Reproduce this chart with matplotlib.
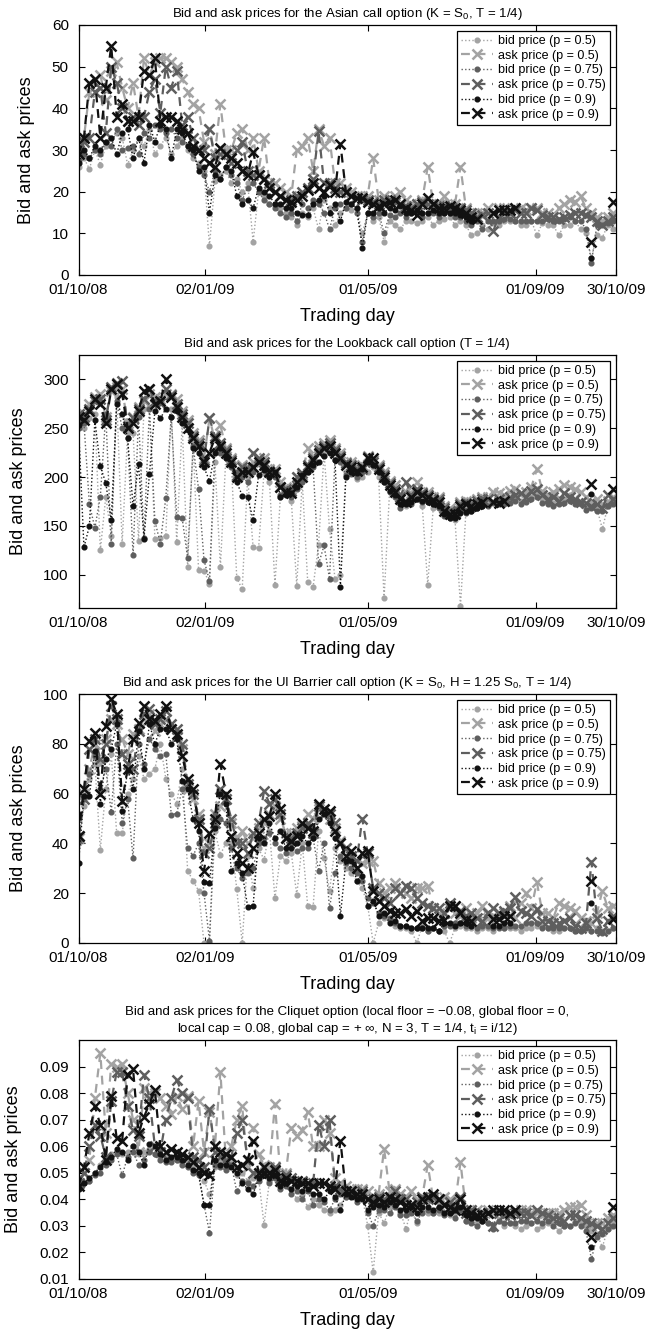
import numpy as np
import pandas as pd
import matplotlib
matplotlib.use("Agg")
import matplotlib.pyplot as plt
import matplotlib.dates as mdates
from matplotlib.ticker import FormatStrFormatter

nan = np.nan

# trading days sampled every 4 calendar days from 01/10/08
dates = pd.date_range("2008-10-01", periods=99, freq="4D")

# ---- Asian call option ----
asian_bid_50 = [26, 28, 25.5, 30, 26.5, 31, 33, 34, 33, 26.5,
                30, 33, 31, 35, 29, 31, 33, 29, 31, 33,
                30, 28, 27, 25, 7, 22.5, 24, 25, 22, 23,
                20, 22, 8, 20, 19, 17, 17, 16, 15, 14,
                12, 15, 14, 16, 11, 18, 16, 12, 15, 16,
                15.5, 16, 10, 15, 13, 14, 8, 13, 12, 11,
                13, 13, 12.5, 13, 14, 12, 13, 13.5, 14, 12,
                13, 12, 9.5, 10, 12, 11, 12.5, 12, 13, 13,
                13, 12, 12, 13, 9.5, 12.5, 12, 12, 9.5, 12,
                12, 13, 11, 10, 4, 9.5, 9, 12, 11]
asian_ask_50 = [31, 33, 44, 47, 48, 42, 49, 51, 45, 40,
                46, 38, 52, 48, 51, 52, 52, 51, 50, 47,
                44, 41, 40, 32, 35, 29, 41, 30, 30, 34,
                35, 30, 33, 25, 33, 22, 22, 21, 20, 19,
                30, 31, 33, 25, 35, 31, 33, 22, 22, 21,
                20, 19, 19, 19, 28, 18, 19, 18, 19, 20,
                18, 17, 17, 18, 26, 17, 17, 19, 17, 17,
                26, 16, 15, 15, 15, 16, 15, 16, 16, 15,
                16, 16, 15.5, 16, 16, 15, 15, 14, 16, 17,
                18, 17.5, 19, 16, 15, 14, 13, 14, 15]
asian_bid_75 = [27.5, 29, 28, 30, 29, 32, 31, 35, 30, 30.5,
                31, 29, 34, 33, 36, 35, 34, 35, 33, 32,
                31, 29, 26, 24, 20, 25, 23, 26, 24, 22,
                18, 21, 22, 20, 18, 17, 16, 15, 14, 15,
                13, 17, 16, 18, 17, 15, 11, 16, 17, 16,
                17, 15, 8, 15, 14, 15, 10, 14.5, 14, 15,
                14, 15, 15, 14, 15, 15, 14, 15, 15, 14,
                14, 13, 12, 13, 11, 13, 13, 13, 13.5, 13.5,
                13, 13, 13, 13, 13, 13, 13.5, 13, 13, 13.5,
                14, 13, 13, 11, 3, 12, 12, 12.5, 13]
asian_ask_75 = [30, 32, 33, 44, 45, 34, 50, 46, 40, 37,
                38, 36, 38, 44, 47, 39, 50, 45, 49, 36,
                38, 33, 30, 30, 35, 28, 29, 29, 27, 30,
                32, 25, 24, 24, 23, 22, 20, 19, 18, 18,
                19, 20, 21, 23, 34.5, 22, 22, 21, 20, 20,
                19, 18.5, 18, 18, 17.5, 17, 18, 18, 17.5, 17,
                16.5, 16, 17, 17.5, 17, 17, 16.5, 16.5, 16, 16,
                16, 15.5, 15, 14, 14.5, 15, 10.5, 14, 15, 15,
                15.5, 15, 15, 16, 15.5, 14.5, 14, 14, 13.5, 14,
                14.5, 15, 15, 14.5, 14, 13, 12, 13, 14]
asian_bid_90 = [27, 30, 28, 31, 30, 32, 33, 29, 34, 35,
                28, 33, 27, 36, 32, 36, 35, 28, 35, 34,
                31, 30, 25, 26, 15, 24, 23, 26, 25, 19,
                17, 18, 16, 21, 20, 19, 17, 17, 16, 16,
                15, 14.5, 14.5, 17, 18, 19, 15, 17, 13, 17.5,
                17, 16, 6.5, 15, 15, 16, 15, 16, 15.5, 16.5,
                15, 15, 15.5, 15, 15, 15.5, 15, 15, 15, 15,
                14.5, 14, 13, nan, nan, nan, nan, nan, nan, nan,
                nan, nan, nan, nan, nan, nan, nan, nan, nan, nan,
                nan, nan, nan, nan, 4, nan, nan, nan, nan]
asian_ask_90 = [29, 33, 46, 47, 33, 45, 55, 38, 41, 37,
                37, 38, 49, 48, 52, 37, 38, 38, 37, 35,
                34, 31, 30, 28, 27, 26, 30.5, 29, 28, 27,
                25, 24, 29.5, 24, 23, 21, 20, 19, 18, 17.5,
                18, 19, 20.5, 22, 21, 20, 21.5, 20, 31.5, 20,
                19, 18.5, 18.5, 17.5, 17, 16.5, 17, 17.5, 18, 17,
                16, 15.5, 14.5, 17, 18.5, 17, 16, 16, 16.5, 16,
                15.5, 15, 14, 13.5, nan, nan, 15, 15.5, 15.5, 15.5,
                16, nan, nan, nan, nan, nan, nan, nan, nan, nan,
                nan, nan, nan, nan, 8, nan, nan, nan, 17.5]

# ---- Lookback call option ----
look_bid_50 = [255, 250, 260, 265, 125, 180, 140, 282, 132, 245,
               245, 135, 270, 272, 137, 138, 140, 270, 134, 255,
               108, 235, 105, 104, 91, 215, 108, 220, 215, 97,
               85, 200, 128, 127, 205, 195, 90, 180, 185, 176,
               89, 196, 93, 88, 131, 225, 147, 96, 100, 205,
               205, 198, 200, 205, 210, 200, 76, 185, 182, 172,
               170, 175, 180, 170, 90, 168, 170, 162, 160, 156,
               68, 165, 165, 168, 170, 172, 175, 176, 178, 178,
               180, 176, 178, 180, 185, 178, 176, 174, 178, 178,
               182, 176, 175, 170, 172, 168, 147, 170, 175]
look_ask_50 = [260, 265, 275, 282, 285, 262, 288, 292, 290, 255,
               262, 272, 278, 285, 282, 280, 285, 285, 280, 268,
               258, 245, 238, 220, 260, 238, 253, 230, 220, 205,
               212, 210, 215, 218, 220, 208, 208, 195, 190, 188,
               200, 202, 230, 222, 232, 235, 238, 230, 225, 215,
               215, 210, 212, 222, 218, 212, 205, 196, 192, 182,
               185, 184, 195, 185, 185, 180, 180, 170, 168, 165,
               175, 176, 175, 178, 180, 180, 185, 184, 182, 186,
               188, 183, 185, 190, 208, 186, 182, 185, 188, 192,
               190, 188, 185, 180, 175, 178, 172, 176, 180]
look_bid_75 = [250, 255, 172, 148, 180, 265, 132, 278, 250, 240,
               120, 262, 138, 270, 155, 132, 179, 262, 159, 158,
               117, 232, 188, 115, 94, 228, 225, 225, 210, 205,
               200, 195, 205, 215, 208, 200, 200, 182, 183, 180,
               188, 195, 205, 210, 111, 130, 96, 218, 215, 202,
               203, 200, 205, 215, 212, 205, 195, 185, 180, 168,
               172, 172, 178, 175, 175, 172, 168, 160, 158, 158,
               165, 163, 165, 168, 170, 170, 174, 172, 172, 174,
               176, 172, 175, 178, 180, 174, 172, 170, 172, 174,
               176, 172, 172, 166, 168, 165, 165, 170, 172]
look_ask_75 = [265, 262, 270, 278, 280, 258, 292, 296, 298, 252,
               260, 270, 280, 290, 278, 276, 290, 284, 275, 265,
               255, 242, 235, 218, 260, 242, 235, 228, 218, 202,
               210, 208, 225, 220, 215, 206, 205, 190, 188, 186,
               200, 204, 212, 220, 228, 232, 235, 228, 222, 214,
               212, 208, 208, 221, 215, 210, 202, 194, 188, 180,
               195, 182, 188, 184, 182, 178, 178, 168, 165, 163,
               172, 174, 172, 176, 178, 178, 175, 178, 176, 180,
               182, 184, 180, 186, 188, 182, 178, 180, 176, 184,
               180, 178, 175, 174, 170, 172, 168, 182, 178]
look_bid_90 = [253, 128, 150, 258, 211, 194, 156, 275, 265, 240,
               170, 213, 137, 203, 268, 260, 270, 262, 268, 255,
               248, 230, 225, 210, 196, 225, 230, 220, 212, 195,
               181, 180, 156, 202, 207, 200, 205, 180, 182, 184,
               190, 202, 205, 212, 215, 222, 225, 218, 88, 200,
               205, 204, 208, 215, 212, 205, 195, 186, 182, 172,
               172, 175, 178, 176, 175, 172, 170, 162, 158, 158,
               163, 164, 165, 168, 170, nan, nan, nan, nan, nan,
               nan, nan, nan, nan, nan, nan, nan, nan, nan, nan,
               nan, nan, nan, nan, 183, nan, nan, nan, nan]
look_ask_90 = [262, 258, 268, 280, 275, 255, 290, 295, 285, 250,
               255, 268, 288, 290, 275, 278, 300, 282, 272, 262,
               250, 240, 232, 215, 225, 240, 232, 225, 215, 200,
               205, 205, 210, 215, 212, 205, 205, 190, 185, 184,
               195, 200, 210, 218, 225, 230, 232, 225, 220, 212,
               210, 206, 210, 220, 220, 208, 200, 192, 185, 178,
               175, 180, 185, 182, 180, 177, 175, 165, 162, 162,
               170, 172, 170, 172, 175, nan, 175, 174, 176, nan,
               nan, nan, nan, nan, nan, nan, nan, nan, nan, nan,
               nan, nan, nan, nan, 193, nan, nan, nan, 188]

# ---- UI Barrier call option ----
bar_bid_50 = [40, 55, 66, 72, 37.5, 62, 76, 44, 44, 60,
              66, 75, 66, 68, 70, 80, 66, 60, 56, 70,
              29, 25, 21, 0, 0, 45, 35.5, 40, 40, 21.8,
              0, 35, 22, 38, 33.5, 45, 18, 35, 33, 36,
              19.4, 40, 15, 14.6, 45, 34, 21, 38, 33, 30,
              28, 25, 22, 15, 0, 8, 10, 9, 7, 6,
              6, 5, 0, 7, 5, 6, 5, 5, 0, 6,
              7, 6, 6, 5, 6, 6, 5, 7, 6, 6,
              6, 5, 6, 6, 7, 7, 6, 5, 5, 6,
              6, 5, 5, 6, 5, 6, 5, 5, 6]
bar_ask_50 = [42, 60, 70, 80, 72, 82, 90, 88, 82, 76,
              84, 86, 90, 92, 85, 88, 90, 86, 83, 78,
              62, 58, 52, 38, 40, 52, 55, 58, 48, 42,
              45, 40, 42, 46, 48, 52, 55, 50, 44, 44,
              46, 47, 52, 50, 54, 52, 50, 46, 41, 38,
              34, 30, 32, 33, 33, 24, 20, 22, 24, 20,
              20, 18, 22, 22, 23, 14, 12, 12, 14, 12,
              11, 14, 10, 12, 15, 10, 11, 12, 12, 15,
              10, 16, 20, 14, 24.5, 12, 12, 10, 16, 15,
              14, 13, 10, 9, 8, 12, 21, 14, 15]
bar_bid_75 = [41, 58, 68, 75, 62, 70, 52.7, 80, 48, 58,
              34, 80, 72, 82, 78, 75, 76, 51.6, 52, 62,
              38, 35, 40, 20, 1, 52, 50, 48, 38, 30,
              26, 28, 30, 40, 42, 44, 40, 38, 36, 40,
              37, 38, 38, 42, 29, 40, 14, 28, 35, 32,
              30, 28, 25, 18, 16, 12, 11, 10, 8, 7,
              7, 6, 6, 6, 5, 6, 5, 7, 7, 8,
              8, 7, 7, 6, 7, 7, 6, 6, 6, 7,
              7, 7, 8, 8, 8, 6, 6, 6, 6, 6,
              6, 5, 5, 6, 5, 5, 4, 5, 6]
bar_ask_75 = [43, 58, 78, 82, 74, 80, 95, 90, 76, 72,
              70, 85, 92, 94, 88, 90, 93, 88, 86, 80,
              64, 60, 50, 36, 38, 48, 62, 58, 50, 40,
              40, 36, 44, 48, 61, 56, 58, 52, 42, 42,
              44, 46, 48, 44, 55, 52, 52, 48, 40, 38,
              35, 33, 50, 36, 22, 20, 18, 16, 22, 20,
              23, 22, 18, 16, 15, 14, 14, 12, 16, 15,
              13, 11, 12, 10, 9, 12, 14, 12, 13, 14,
              18.5, 13, 12, 11, 13.5, 9, 9, 8, 8, 9,
              10, 7, 6, 8, 32.7, 10, 5, 9, 11]
bar_bid_90 = [32, 59, 59, 77, 56, 74, 78, 88, 53, 69.6,
              62, 85, 70, 88, 80, 86, 86, 80, 82, 65,
              62, 50, 45, 24.3, 24, 46, 60, 56, 29, 32,
              28, 14.6, 15, 42, 40, 48, 42, 45, 38, 38,
              40, 43, 40, 42, 50, 52, 48, 42, 11, 33,
              33, 25, 27, 15, 17, 11, 12, 8, 9, 7,
              7, 6, 6, 6, 6, 6, 5, 8, 8, 7,
              8, 8, 7, nan, nan, nan, 7, 7, 8, 8,
              nan, nan, nan, nan, nan, nan, nan, nan, nan, nan,
              nan, nan, nan, nan, 16, nan, nan, nan, nan]
bar_ask_90 = [43, 62, 81, 84.5, 60, 87, 98, 92, 57, 70,
              82, 88.5, 95, 90, 89, 92, 95, 86, 84, 75,
              66, 62, 48, 29, 44, 50, 72, 60, 43, 36,
              32, 30, 38, 44, 50, 51, 60, 54, 42, 41,
              43, 48, 46, 45, 56, 54, 53, 45, 40, 35,
              37, 30, 36, 37, 21, 17, 15, 13, 12, 12,
              13.5, 11, 13, 9, 10, 10, 9, 9.4, 15, 15,
              12, 9.4, 9, nan, nan, nan, 9.5, 9.5, 11, 11,
              nan, nan, nan, nan, nan, nan, nan, nan, nan, nan,
              nan, nan, nan, nan, 24.7, nan, nan, nan, 9.5]

# ---- Cliquet option ----
cliq_bid_50 = [.045, .046, .047, .05, .053, .055, .057, .058, .057, .058,
               .06, .057, .058, .059, .057, .056, .056, .055, .055, .054,
               .054, .052, .05, .047, .042, .052, .054, .052, .054, .049,
               .05, .047, .048, .048, .0305, .047, .05, .045, .046, .044,
               .04, .042, .037, .04, .038, .036, .035, .036, .038, .041,
               .042, .041, .041, .03, .0125, .035, .031, .037, .038, .035,
               .029, .036, .031, .036, .035, .035, .035, .035, .034, .035,
               .036, .032, .032, .031, .032, .031, .03, .032, .03, .031,
               .03, .029, .03, .031, .029, .03, .031, .031, .028, .03,
               .03, .032, .031, .03, .028, .027, .022, .029, .031]
cliq_ask_50 = [.046, .05, .055, .078, .095, .065, .091, .09, .091, .08,
               .07, .058, .082, .08, .08, .078, .075, .072, .079, .074,
               .079, .06, .077, .058, .073, .06, .088, .055, .06, .07,
               .075, .052, .067, .057, .053, .052, .076, .049, .05, .067,
               .064, .066, .073, .06, .06, .07, .065, .048, .046, .045,
               .044, .044, .044, .043, .041, .042, .059, .043, .044, .042,
               .041, .043, .04, .041, .053, .04, .038, .041, .04, .038,
               .054, .036, .036, .036, .035, .036, .035, .035, .035, .035,
               .036, .036, .036, .035, .035, .034, .035, .035, .035, .036,
               .037, .037, .038, .034, .03, .031, .031, .033, .034]
cliq_bid_75 = [.045, .046, .047, .049, .05, .053, .055, .057, .049, .056,
               .058, .053, .055, .058, .057, .055, .054, .054, .055, .053,
               .052, .05, .049, .038, .0275, .053, .052, .051, .053, .043,
               .047, .046, .045, .047, .049, .046, .048, .044, .045, .042,
               .043, .04, .043, .038, .04, .039, .036, .04, .042, .041,
               .042, .039, .041, .035, .03, .036, .036, .035, .037, .034,
               .034, .035, .032, .035, .036, .035, .036, .034, .035, .033,
               .036, .032, .031, .03, .032, .031, .029, .032, .031, .031,
               .031, .032, .032, .031, .032, .031, .032, .03, .031, .03,
               .03, .031, .03, .028, .0175, .026, .027, .029, .03]
cliq_ask_75 = [.046, .05, .06, .068, .064, .056, .077, .088, .088, .075,
               .066, .064, .087, .078, .06, .058, .07, .078, .085, .08,
               .078, .056, .055, .052, .074, .058, .056, .055, .056, .065,
               .07, .055, .05, .05, .052, .05, .052, .048, .049, .048,
               .047, .047, .046, .046, .068, .06, .07, .045, .044, .043,
               .043, .042, .043, .04, .04, .041, .04, .041, .043, .04,
               .04, .038, .039, .041, .04, .041, .04, .038, .039, .036,
               .041, .035, .036, .034, .035, .035, .03, .035, .034, .034,
               .035, .035, .035, .034, .036, .035, .034, .033, .033, .032,
               .034, .034, .033, .032, .031, .03, .029, .031, .033]
cliq_bid_90 = [.044, .046, .048, .05, .052, .054, .056, .059, .058, .055,
               .06, .058, .053, .061, .06, .057, .055, .056, .056, .055,
               .053, .051, .05, .038, .038, .055, .053, .053, .052, .05,
               .046, .044, .042, .048, .05, .048, .049, .045, .046, .044,
               .045, .043, .044, .042, .042, .04, .043, .041, .036, .042,
               .041, .04, .04, .036, .037, .038, .037, .039, .038, .036,
               .036, .037, .035, .037, .037, .036, .037, .035, .035, .036,
               .037, .034, .033, .033, .032, nan, nan, nan, nan, nan,
               nan, nan, nan, nan, nan, nan, nan, nan, nan, nan,
               nan, nan, nan, nan, .022, nan, nan, nan, nan]
cliq_ask_90 = [.045, .052, .065, .075, .068, .055, .079, .063, .062, .087,
               .089, .065, .071, .076, .081, .06, .058, .059, .058, .057,
               .056, .054, .052, .05, .049, .06, .058, .057, .056, .052,
               .053, .055, .062, .05, .052, .05, .051, .047, .048, .047,
               .047, .046, .046, .045, .046, .046, .045, .044, .062, .043,
               .043, .042, .042, .04, .039, .04, .039, .041, .04, .039,
               .038, .038, .037, .04, .041, .042, .04, .038, .037, .036,
               .04, .036, .035, .034, .034, .035, .036, .036, .036, .035,
               .036, nan, nan, nan, nan, nan, nan, nan, nan, nan,
               nan, nan, nan, nan, .026, nan, nan, nan, .037]

labels = ["bid price (p = 0.5)", "ask price (p = 0.5)", "bid price (p = 0.75)",
          "ask price (p = 0.75)", "bid price (p = 0.9)", "ask price (p = 0.9)"]
xtick_dates = ["2008-10-01", "2009-01-02", "2009-05-01", "2009-09-01", "2009-10-30"]

plt.rcParams["font.family"] = ["Liberation Sans", "DejaVu Sans"]
plt.rcParams["mathtext.fontset"] = "custom"
plt.rcParams["mathtext.rm"] = "Liberation Sans"
plt.rcParams["mathtext.it"] = "Liberation Sans:italic"

light, mid, dark = "#a3a3a3", "#5e5e5e", "#111111"
styles = [
    dict(color=light, linestyle=(0, (1, 1.6)), lw=1.0, marker="o", ms=3.4),
    dict(color=light, linestyle=(0, (4, 3)), lw=1.6, marker="x", ms=7.5, mew=1.8),
    dict(color=mid, linestyle=(0, (1, 1.6)), lw=1.0, marker="o", ms=3.4),
    dict(color=mid, linestyle=(0, (4, 3)), lw=1.6, marker="x", ms=7.5, mew=1.8),
    dict(color=dark, linestyle=(0, (1, 1.6)), lw=1.0, marker="o", ms=3.4),
    dict(color=dark, linestyle=(0, (4, 3)), lw=1.6, marker="x", ms=7.5, mew=1.8),
]

panels = [
    dict(series=[asian_bid_50, asian_ask_50, asian_bid_75, asian_ask_75, asian_bid_90, asian_ask_90],
         title="Bid and ask prices for the Asian call option (K = S$_0$, T = 1/4)",
         ylim=(0, 60), yticks=[0, 10, 20, 30, 40, 50, 60], fmt="%d",
         box=[78.5, 25, 616, 275]),
    dict(series=[look_bid_50, look_ask_50, look_bid_75, look_ask_75, look_bid_90, look_ask_90],
         title="Bid and ask prices for the Lookback call option (T = 1/4)",
         ylim=(66, 325), yticks=[100, 150, 200, 250, 300], fmt="%d",
         box=[78.5, 355, 616, 608]),
    dict(series=[bar_bid_50, bar_ask_50, bar_bid_75, bar_ask_75, bar_bid_90, bar_ask_90],
         title="Bid and ask prices for the UI Barrier call option (K = S$_0$, H = 1.25 S$_0$, T = 1/4)",
         ylim=(0, 100), yticks=[0, 20, 40, 60, 80, 100], fmt="%d",
         box=[78.5, 694, 616, 943]),
    dict(series=[cliq_bid_50, cliq_ask_50, cliq_bid_75, cliq_ask_75, cliq_bid_90, cliq_ask_90],
         title="Bid and ask prices for the Cliquet option (local floor = \u22120.08, global floor = 0,\n"
               "local cap = 0.08, global cap = + \u221e, N = 3, T = 1/4, t$_\\mathrm{i}$ = i/12)",
         ylim=(0.01, 0.1), yticks=[0.01, 0.02, 0.03, 0.04, 0.05, 0.06, 0.07, 0.08, 0.09], fmt="%.2f",
         box=[78.5, 1040, 616, 1279]),
]

W, H = 647, 1330
fig = plt.figure(figsize=(W / 100, H / 100), dpi=100)

for p in panels:
    x0, y0, x1, y1 = p["box"]
    ax = fig.add_axes([x0 / W, 1 - y1 / H, (x1 - x0) / W, (y1 - y0) / H])
    for vals, lab, st in zip(p["series"], labels, styles):
        ax.plot(dates, vals, label=lab, **st)
    ax.set_xlim(pd.Timestamp("2008-10-01"), pd.Timestamp("2009-10-30"))
    ax.set_ylim(*p["ylim"])
    ax.set_yticks(p["yticks"])
    ax.yaxis.set_major_formatter(FormatStrFormatter(p["fmt"]))
    ax.set_xticks([pd.Timestamp(d) for d in xtick_dates])
    ax.xaxis.set_major_formatter(mdates.DateFormatter("%d/%m/%y"))
    ax.tick_params(direction="in", top=True, right=True, length=4, width=0.8,
                   labelsize=11, pad=7)
    ax.tick_params(axis="x", pad=6)
    for s in ax.spines.values():
        s.set_linewidth(0.9)
    ax.set_xlabel("Trading day", fontsize=13, labelpad=8)
    ax.set_ylabel("Bid and ask prices", fontsize=13, labelpad=12)
    ax.set_title(p["title"], fontsize=9.5, pad=6)
    leg = ax.legend(loc="upper right", bbox_to_anchor=(1, 1), borderaxespad=0.5,
                    fontsize=9, handlelength=2.6, handletextpad=0.4, labelspacing=0.22,
                    borderpad=0.3, fancybox=False, framealpha=1, edgecolor="black")
    leg.get_frame().set_linewidth(0.9)

fig.savefig("out.png", dpi=100)
